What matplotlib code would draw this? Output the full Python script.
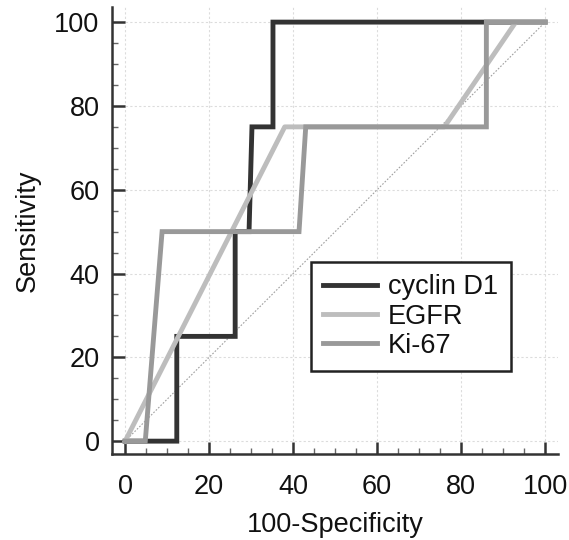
import matplotlib
matplotlib.use("Agg")
import matplotlib.pyplot as plt
from matplotlib.ticker import MultipleLocator

plt.rcParams['font.family'] = ['Liberation Sans', 'DejaVu Sans']

series_names = ["cyclin D1", "EGFR", "Ki-67"]
cyclin_x = [0, 12.3, 12.3, 26.2, 26.2, 29.5, 30.2, 35.2, 35.2, 100]
cyclin_y = [0, 0, 25, 25, 50, 50, 75, 75, 100, 100]
egfr_x = [0, 38, 76, 93, 100]
egfr_y = [0, 75, 75, 100, 100]
ki67_x = [0, 4.8, 8.8, 41.4, 43, 86, 86, 100]
ki67_y = [0, 0, 50, 50, 75, 75, 100, 100]
diag_x = [0, 100]
diag_y = [0, 100]
ticks = [0, 20, 40, 60, 80, 100]

FS = 19.5

fig = plt.figure(figsize=(5.69, 5.40), dpi=100)
ax = fig.add_axes([0.197, 0.159, 0.784, 0.828])

ax.plot(diag_x, diag_y, color='#a0a0a0', lw=0.8, ls=(0, (1.5, 1.5)), zorder=2)
ax.plot(cyclin_x, cyclin_y, color='#333333', lw=3.5, label=series_names[0], zorder=3,
        solid_joinstyle='miter')
ax.plot(egfr_x, egfr_y, color='#bdbdbd', lw=3.5, label=series_names[1], zorder=4)
ax.plot(ki67_x, ki67_y, color='#999999', lw=3.5, label=series_names[2], zorder=5,
        solid_joinstyle='miter')

ax.set_xlim(-3.1, 103.1)
ax.set_ylim(-3.1, 103.6)
ax.set_xticks(ticks)
ax.set_yticks(ticks)
ax.xaxis.set_minor_locator(MultipleLocator(5))
ax.yaxis.set_minor_locator(MultipleLocator(5))
ax.grid(True, which='major', color='#dcdcdc', lw=0.8, ls=(0, (2, 2)), zorder=1)

for s in ['top', 'right']:
    ax.spines[s].set_visible(False)
for s in ['left', 'bottom']:
    ax.spines[s].set_linewidth(1.8)
    ax.spines[s].set_color('#333333')

ax.tick_params(axis='both', which='major', direction='in', length=9, width=1.8,
               color='#333333', labelsize=FS, labelcolor='#111111')
ax.tick_params(axis='both', which='minor', direction='in', length=4, width=1.0,
               color='#666666')
ax.tick_params(axis='x', which='major', pad=14)
ax.tick_params(axis='y', which='major', pad=9)

ax.set_xlabel("100-Specificity", fontsize=FS, color='#111111', labelpad=9)
ax.set_ylabel("Sensitivity", fontsize=FS, color='#111111', labelpad=10)

leg = ax.legend(loc='lower left', bbox_to_anchor=(0.446, 0.186), fontsize=FS,
                frameon=True, fancybox=False, handlelength=2.0, handletextpad=0.4,
                labelspacing=0.12, borderpad=0.45, borderaxespad=0)
leg.get_frame().set_edgecolor('#222222')
leg.get_frame().set_linewidth(1.8)
leg.get_frame().set_alpha(1)
for t in leg.get_texts():
    t.set_color('#111111')

fig.savefig("out.png", dpi=100)
